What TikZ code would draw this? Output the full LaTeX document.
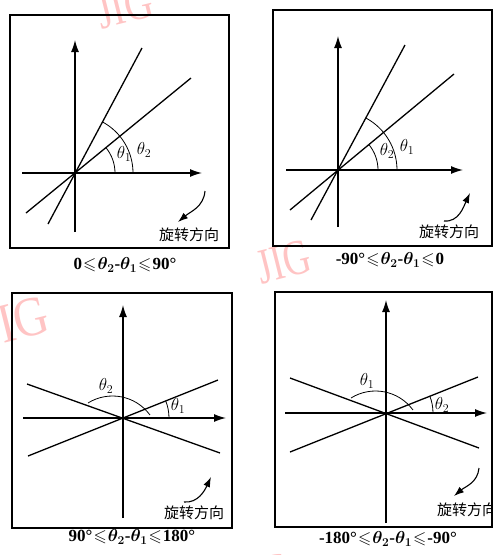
\documentclass[tikz,border=0pt]{standalone}
\usepackage{amssymb}
\usepackage{fontspec}
\setmainfont{Liberation Serif}
\newfontfamily\cjk{Noto Sans CJK SC}
\usetikzlibrary{arrows.meta,calc}
\definecolor{wm}{RGB}{255,196,196}
\newcommand{\lsq}{$\mkern1mu{\leqslant}\mkern1mu$}
\tikzset{
  frame/.style={line width=1.6pt},
  axis/.style={line width=1.3pt,-{Latex[length=12pt,width=8pt]}},
  ray/.style={line width=1.3pt},
  angarc/.style={line width=0.8pt},
  rotarrow/.style={line width=1.1pt,-{Latex[length=10pt,width=7pt]}},
  thlab/.style={font=\fontsize{17}{19}\selectfont,inner sep=0pt},
  cnlab/.style={font=\fontsize{15}{18}\selectfont\cjk,inner sep=0pt},
  caplab/.style={font=\fontsize{17}{19}\selectfont\bfseries\boldmath,inner sep=0pt},
  wmark/.style={font=\fontsize{46}{50}\selectfont,text=wm,inner sep=0pt}
}
\begin{document}
\begin{tikzpicture}[x=1pt,y=-1pt]
\useasboundingbox (0,0) rectangle (493,555);
% watermarks
\node[wmark,rotate=14,xscale=0.85] (w1) at (125,8) {JIG};
\node[wmark,rotate=14,xscale=0.75,font=\fontsize{50}{54}\selectfont] (w2) at (284,262) {JIG};
\node[wmark,rotate=14,xscale=0.85,font=\fontsize{56}{60}\selectfont] (w3) at (14,322) {JIG};
\node[wmark,rotate=14,xscale=0.85] (w4) at (262,574) {JIG};

% ---------- panel 1 ----------
\draw[frame] (10,15) rectangle (229,248);
\coordinate (O1) at (75,173);
\coordinate (v1b) at (75,232); \coordinate (v1t) at (75,40);
\coordinate (h1l) at (22,173); \coordinate (h1r) at (202,173);
\coordinate (a1s) at (48,224); \coordinate (a1e) at (142,48);
\coordinate (b1s) at (26,213); \coordinate (b1e) at (191,78);
\draw[axis] (v1b) -- (v1t);
\draw[axis] (h1l) -- (h1r);
\draw[ray] (a1s) -- (a1e);
\draw[ray] (b1s) -- (b1e);
\draw[angarc] ($(O1)+(40,0)$) arc[start angle=0,end angle=-39.3,radius=40];
\draw[angarc] ($(O1)+(58,0)$) arc[start angle=0,end angle=-61.8,radius=58];
\node[thlab] (t11) at (124,154) {$\theta_1$};
\node[thlab] (t12) at (144,150) {$\theta_2$};
\coordinate (r1s) at (205,191); \coordinate (r1e) at (178,222);
\draw[rotarrow] (r1s) to[out=-95,in=40] (r1e);
\node[cnlab] (c1) at (189,235) {旋转方向};
\node[caplab] (k1) at (125,265) {0\lsq$\theta_2$-$\theta_1$\lsq90°};

% ---------- panel 2 ----------
\draw[frame] (273,10) rectangle (492,246);
\coordinate (O2) at (338,170);
\coordinate (v2b) at (338,227); \coordinate (v2t) at (338,36);
\coordinate (h2l) at (286,170); \coordinate (h2r) at (463,170);
\coordinate (a2s) at (311,220); \coordinate (a2e) at (405,45);
\coordinate (b2s) at (290,210); \coordinate (b2e) at (454,74);
\draw[axis] (v2b) -- (v2t);
\draw[axis] (h2l) -- (h2r);
\draw[ray] (a2s) -- (a2e);
\draw[ray] (b2s) -- (b2e);
\draw[angarc] ($(O2)+(40,0)$) arc[start angle=0,end angle=-39.6,radius=40];
\draw[angarc] ($(O2)+(59,0)$) arc[start angle=0,end angle=-61.8,radius=59];
\node[thlab] (t22) at (387,151) {$\theta_2$};
\node[thlab] (t21) at (407,147) {$\theta_1$};
\coordinate (r2s) at (444,221); \coordinate (r2e) at (470,193);
\draw[rotarrow] (r2s) to[out=-5,in=-115] (r2e);
\node[cnlab] (c2) at (449,232) {旋转方向};
\node[caplab] (k2) at (390,260) {-90°\lsq$\theta_2$-$\theta_1$\lsq0};

% ---------- panel 3 ----------
\draw[frame] (12,293) rectangle (232,528);
\coordinate (O3) at (123,418);
\coordinate (v3b) at (123,518); \coordinate (v3t) at (123,305);
\coordinate (h3l) at (23,418); \coordinate (h3r) at (226,418);
\coordinate (a3s) at (28,456); \coordinate (a3e) at (218,380);
\coordinate (b3s) at (27,384); \coordinate (b3e) at (220,453);
\draw[axis] (v3b) -- (v3t);
\draw[axis] (h3l) -- (h3r);
\draw[ray] (a3s) -- (a3e);
\draw[ray] (b3s) -- (b3e);
\draw[angarc] ($(O3)+(46,0)$) arc[start angle=0,end angle=-21.8,radius=46];
\coordinate (c3) at ($(O3)+(-10.5,24.5)$);
\draw[angarc] ($(c3)+(-36.3:46.5)$) arc[start angle=-36.3,end angle=-121.8,radius=46.5];
\node[thlab] (t32) at (106,386) {$\theta_2$};
\node[thlab] (t31) at (178,406) {$\theta_1$};
\coordinate (r3s) at (184,502); \coordinate (r3e) at (211,477);
\draw[rotarrow] (r3s) to[out=-5,in=-115] (r3e);
\node[cnlab] (c3l) at (194,513) {旋转方向};
\node[caplab] (k3) at (132,537) {90°\lsq$\theta_2$-$\theta_1$\lsq180°};

% ---------- panel 4 ----------
\draw[frame] (275,292) rectangle (492,527);
\coordinate (O4) at (386,413);
\coordinate (v4b) at (386,523); \coordinate (v4t) at (386,300);
\coordinate (h4l) at (285,413); \coordinate (h4r) at (487,413);
\coordinate (a4s) at (290,452); \coordinate (a4e) at (478,377);
\coordinate (b4s) at (290,378); \coordinate (b4e) at (479,448);
\draw[axis] (v4b) -- (v4t);
\draw[axis] (h4l) -- (h4r);
\draw[ray] (a4s) -- (a4e);
\draw[ray] (b4s) -- (b4e);
\draw[angarc] ($(O4)+(47,0)$) arc[start angle=0,end angle=-21.5,radius=47];
\coordinate (c4) at ($(O4)+(-10.5,24.5)$);
\draw[angarc] ($(c4)+(-36.3:46.5)$) arc[start angle=-36.3,end angle=-121.8,radius=46.5];
\node[thlab] (t41) at (367,381) {$\theta_1$};
\node[thlab] (t42) at (442,405) {$\theta_2$};
\coordinate (r4s) at (479,468); \coordinate (r4e) at (454,496);
\draw[rotarrow] (r4s) to[out=-95,in=40] (r4e);
\node[cnlab] (c4l) at (467,510) {旋转方向};
\node[caplab] (k4) at (388,539) {-180°\lsq$\theta_2$-$\theta_1$\lsq-90°};
\end{tikzpicture}
\end{document}
